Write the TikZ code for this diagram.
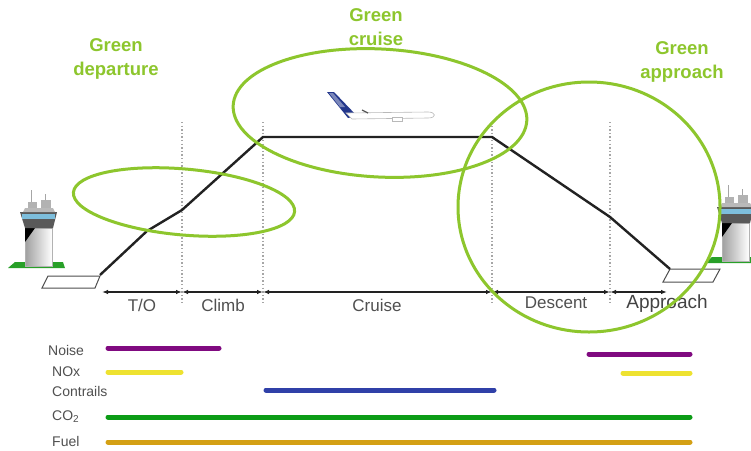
\documentclass[tikz,border=0pt]{standalone}
\usepackage{fontspec}
\setmainfont{Liberation Sans}
\usetikzlibrary{arrows.meta}

\definecolor{leaf}{RGB}{141,198,45}
\definecolor{ink}{RGB}{34,34,34}
\definecolor{txt}{RGB}{80,80,80}
\definecolor{noisec}{RGB}{128,10,128}
\definecolor{noxc}{RGB}{238,226,48}
\definecolor{contrailc}{RGB}{48,64,168}
\definecolor{coc}{RGB}{12,156,22}
\definecolor{fuelc}{RGB}{212,160,20}
\definecolor{glass}{RGB}{125,190,220}
\definecolor{lawn}{RGB}{40,160,40}
\definecolor{finblue}{RGB}{35,55,140}

\tikzset{
  ring/.style={draw=leaf, line width=3pt},
  profile/.style={draw=ink, line width=2.4pt, line join=round},
  dotline/.style={draw=gray!70, line width=1.4pt, dash pattern=on 1.4pt off 2.2pt},
  axis/.style={draw=ink, line width=1.2pt, {Latex[length=6pt,width=4.5pt]}-{Latex[length=6pt,width=4.5pt]}},
  phase/.style={text=txt, font=\fontsize{17}{20}\selectfont, inner sep=0pt},
  greenlabel/.style={text=leaf, font=\bfseries\fontsize{18.5}{24}\selectfont, align=center, inner sep=0pt},
  barlabel/.style={text=txt, font=\fontsize{14}{16}\selectfont, anchor=west, inner sep=0pt},
  bar/.style={line width=5pt, line cap=round},
  tower/.pic={
    % ground patch
    \fill[lawn] (-17,2) -- (-10,-4) -- (38,-4) -- (40,2) -- cycle;
    % shaft
    \shade[left color=gray!75, right color=white, draw=gray!60, line width=0.5pt] (0,0) rectangle (27,-38);
    \fill[black] (0,-38) -- (10,-38) -- (0,-24) -- cycle;
    % cab with window band
    \fill[gray!70!black] (-5,-54) -- (32,-54) -- (28,-38) -- (0,-38) -- cycle;
    \fill[glass] (-3,-52) rectangle (30,-47);
    \fill[gray!55] (-2,-54) -- (30,-54) -- (28,-58) -- (0,-58) -- cycle;
    % roof equipment and masts
    \fill[gray!60] (3,-58) rectangle (12,-64);
    \fill[gray!60] (16,-58) rectangle (26,-66);
    \draw[gray!70, line width=1pt] (6,-64) -- (6,-76);
    \draw[gray!70, line width=1pt] (20,-66) -- (20,-72);
  }
}

\begin{document}
\begin{tikzpicture}[x=1pt,y=-1pt]
\useasboundingbox[fill=white] (0,0) rectangle (751,450);

% control towers
\pic at (25,266) {tower};
\pic at (722,261) {tower};

% runways
\draw[draw=ink!80, line width=1pt] (48,276) -- (100,276) -- (95,288) -- (42,288) -- cycle;
\draw[draw=ink!80, line width=1pt] (670,269) -- (720,269) -- (713,282) -- (663,282) -- cycle;

% phase boundaries
\foreach \n/\x in {1/182,2/263,3/492,4/610}{
  \coordinate (t\n) at (\x,122);
  \coordinate (b\n) at (\x,304);
  \draw[dotline] (t\n) -- (b\n);
}

% flight profile
\coordinate (p0) at (100,275);
\coordinate (p1) at (147,231);
\coordinate (p2) at (182,210);
\coordinate (p3) at (263,137);
\coordinate (p4) at (492,137);
\coordinate (p5) at (610,217);
\coordinate (p6) at (670,269);
\draw[profile] (p0) -- (p1) -- (p2) -- (p3) -- (p4) -- (p5) -- (p6);

% aircraft
\fill[finblue] (327,92) -- (334,92) -- (357,116) -- (348,118) -- cycle;
\fill[finblue!60!white] (329,93) -- (333,93) -- (345,107) -- (340,107) -- cycle;
\filldraw[fill=white, draw=gray!55, line width=0.6pt]
  (346,113) -- (428,112) .. controls (436,112) and (437,118) .. (428,118) -- (352,119) -- cycle;
\filldraw[fill=white, draw=gray!55, line width=0.6pt] (392,117) rectangle (402,121);
\draw[gray!70!black, line width=1.2pt] (362,110) -- (368,113);

% phase axis
\foreach \n/\x in {0/102,1/182,2/263,3/492,4/610,5/667}{
  \coordinate (a\n) at (\x,292);
}
\draw[axis] (a0) -- (a1);
\draw[axis] (a1) -- (a2);
\draw[axis] (a2) -- (a3);
\draw[axis] (a3) -- (a4);
\draw[axis] (a4) -- (a5);

\node[phase] (lto) at (142,305) {T/O};
\node[phase] (lclimb) at (223,305) {Climb};
\node[phase] (lcruise) at (377,305) {Cruise};
\node[phase] (ldescent) at (556,303) {Descent};
\node[phase, text=ink!85, font=\fontsize{19}{22}\selectfont] (lappr) at (667,304) {Approach};

% green zones
\draw[ring, rotate around={-5:(184,202)}] (184,202) ellipse [x radius=111, y radius=33];
\draw[ring, rotate around={-3:(380,113)}] (380,113) ellipse [x radius=147, y radius=64];
\draw[ring] (589,207) ellipse [x radius=131, y radius=125];

\node[greenlabel] (gdep) at (116,59) {Green\\departure};
\node[greenlabel] (gcru) at (376,27) {Green\\cruise};
\node[greenlabel] (gapp) at (682,62) {Green\\approach};

% impact bars
\node[barlabel] (lnoise) at (48,350) {Noise};
\node[barlabel] (lnox) at (52,372) {NOx};
\node[barlabel] (lcon) at (52,391) {Contrails};
\node[barlabel] (lco) at (52,417) {CO\raisebox{-0.25ex}{\fontsize{10}{12}\selectfont 2}};
\node[barlabel] (lfuel) at (52,441) {Fuel};

\draw[bar, noisec] (108,348) -- (219,348);
\draw[bar, noisec] (589,354) -- (690,354);
\draw[bar, noxc] (108,372) -- (181,372);
\draw[bar, noxc] (623,373) -- (690,373);
\draw[bar, contrailc] (266,390) -- (494,390);
\draw[bar, coc] (108,417) -- (690,417);
\draw[bar, fuelc] (108,442) -- (690,442);
\end{tikzpicture}
\end{document}
